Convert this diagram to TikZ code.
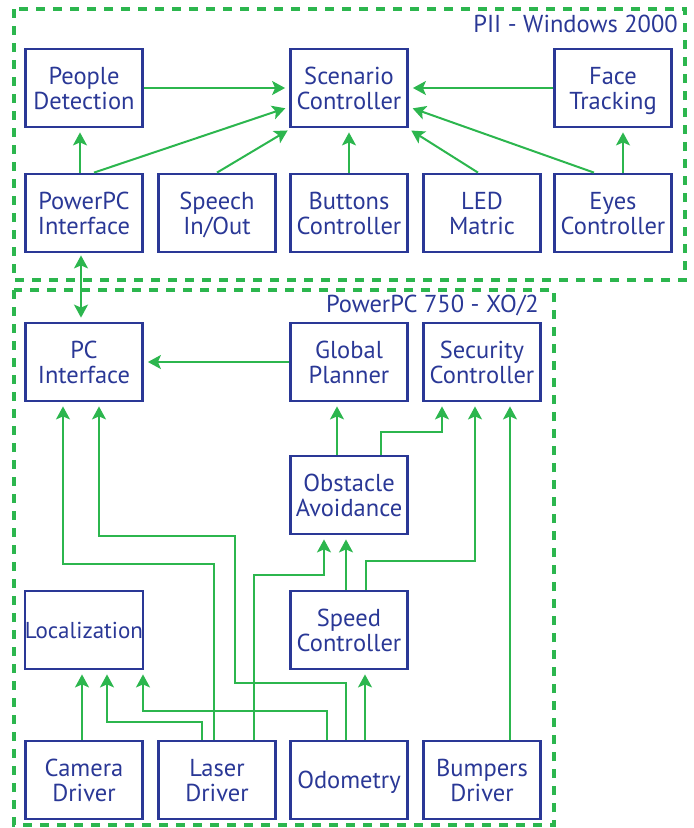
\documentclass[tikz,border=0pt]{standalone}
\usepackage{fontspec}
\setmainfont{PT Sans}
\usetikzlibrary{arrows.meta}
\definecolor{wire}{RGB}{44,182,78}
\definecolor{ink}{RGB}{42,56,150}
\tikzset{
	blk/.style={draw=ink,line width=2.8pt,text=ink,minimum width=117pt,minimum height=78pt,
		inner sep=0pt,align=center,text height=42.5pt,text depth=0pt,font=\fontsize{24.5}{25}\selectfont},
	one/.style={text height=17.5pt,text depth=0pt},
	lbl/.style={text=ink,inner sep=0pt,font=\fontsize{24.5}{25}\selectfont},
	grp/.style={draw=wire,line width=3.8pt,dash pattern=on 9pt off 8pt},
	arr/.style={draw=wire,line width=2pt,-{Stealth[length=13pt,width=14pt,inset=3pt]},shorten >=4pt},
	darr/.style={draw=wire,line width=2pt,{Stealth[length=13pt,width=14pt,inset=3pt]}-{Stealth[length=13pt,width=14pt,inset=3pt]},shorten >=4pt,shorten <=2pt}
}
\begin{document}
\begin{tikzpicture}[x=1pt,y=-1pt]
	\useasboundingbox (0,0) rectangle (694,828);
	\draw[grp] (14,9) rectangle (685,280);
	\draw[grp] (14,290) rectangle (554,825);
	\node[lbl,anchor=base east] (pii) at (678,32) {PII - Windows 2000};
	\node[lbl,anchor=base east] (xo) at (539,312) {PowerPC 750 - XO/2};

	\node[blk] (people) at (84,88) {People\\Detection};
	\node[blk] (scen) at (349,88) {Scenario\\Controller};
	\node[blk] (face) at (613,88) {Face\\Tracking};
	\node[blk] (ppc) at (84,213) {PowerPC\\Interface};
	\node[blk] (speech) at (217,213) {Speech\\In/Out};
	\node[blk] (buttons) at (349,213) {Buttons\\Controller};
	\node[blk] (led) at (482,213) {LED\\Matric};
	\node[blk] (eyes) at (613,213) {Eyes\\Controller};

	\node[blk] (pci) at (84,362) {PC\\Interface};
	\node[blk] (planner) at (349,362) {Global\\Planner};
	\node[blk] (security) at (482,362) {Security\\Controller};
	\node[blk] (obst) at (349,495) {Obstacle\\Avoidance};
	\node[blk,one,font=\fontsize{23}{25}\selectfont] (loc) at (84,630) {Localization};
	\node[blk] (speed) at (349,630) {Speed\\Controller};
	\node[blk] (camera) at (84,780) {Camera\\Driver};
	\node[blk] (laser) at (217,780) {Laser\\Driver};
	\node[blk,one] (odo) at (349,780) {Odometry};
	\node[blk] (bumpers) at (482,780) {Bumpers\\Driver};

	\draw[arr] (people.east) -- (scen.west);
	\draw[arr] (face.west) -- (scen.east);
	\draw[arr] ([xshift=-4pt]ppc.north) -- ([xshift=-4pt]people.south);
	\draw[arr] ([xshift=10pt]ppc.north) -- ([yshift=-19pt]scen.west);
	\draw[arr] (speech.north) -- ([xshift=2pt]scen.south west);
	\draw[arr] (buttons.north) -- (scen.south);
	\draw[arr] ([xshift=-4pt]led.north) -- ([xshift=-1pt]scen.south east);
	\draw[arr] ([xshift=-19pt]eyes.north) -- ([yshift=-19pt]scen.east);
	\draw[arr] ([xshift=10pt]eyes.north) -- ([xshift=10pt]face.south);
	\draw[darr] ([xshift=-3pt]ppc.south) -- ([xshift=-3pt]pci.north);

	\draw[arr] (planner.west) -- (pci.east);
	\draw[arr] ([xshift=-12pt]obst.north) -- ([xshift=-12pt]planner.south);
	\draw[arr] ([xshift=32pt]obst.north) -- ++(0,-23) -| ([xshift=-40pt]security.south);
	\draw[arr] ([xshift=17pt]speed.north) -- ++(0,-29) -| ([xshift=-7pt]security.south);
	\draw[arr] ([xshift=28pt]bumpers.north) -- ([xshift=28pt]security.south);
	\draw[arr] ([xshift=-3pt]speed.north) -- ([xshift=-3pt]obst.south);
	\draw[arr] ([xshift=37pt]laser.north) -- ++(0,-165) -| ([xshift=-25pt]obst.south);
	\draw[arr] ([xshift=-3pt]laser.north) -- ++(0,-176) -| ([xshift=-21pt]pci.south);
	\draw[arr] ([xshift=-3pt]odo.north) -- ++(0,-57) -| ++(-111,-147) -| ([xshift=15pt]pci.south);
	\draw[arr] ([xshift=-2pt]camera.north) -- ([xshift=-2pt]loc.south);
	\draw[arr] ([xshift=-15pt]laser.north) -- ++(0,-18) -| ([xshift=23pt]loc.south);
	\draw[arr] ([xshift=-22pt]odo.north) -- ++(0,-29) -| ([xshift=59pt]loc.south);
	\draw[arr] ([xshift=16pt]odo.north) -- ([xshift=16pt]speed.south);
\end{tikzpicture}
\end{document}
